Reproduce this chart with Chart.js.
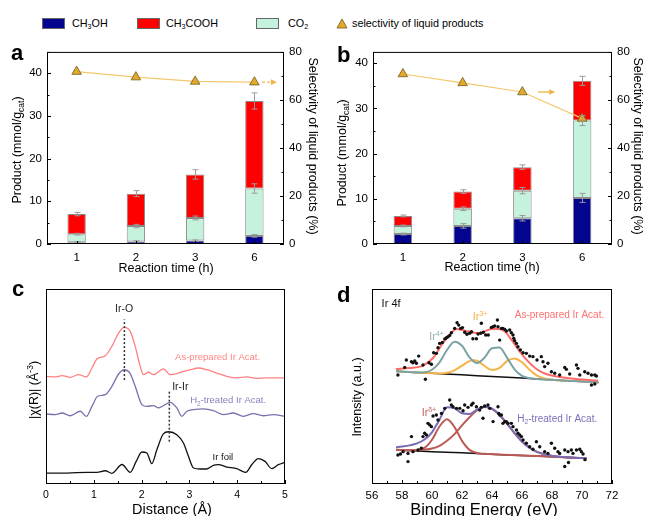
<!DOCTYPE html>
<html>
<head>
<meta charset="utf-8">
<script src="https://cdn.jsdelivr.net/npm/chart.js@4.4.1/dist/chart.umd.min.js"></script>
<style>
  html, body { margin: 0; padding: 0; background: #fff; }
  body { width: 645px; height: 516px; position: relative; overflow: hidden; font-family: "Liberation Sans", Arial, sans-serif; }
  .cv { position: absolute; }
  .lab { position: absolute; font-weight: bold; font-size: 22px; line-height: 22px; }
  .sw { position: absolute; top: 18px; width: 23px; height: 11px; box-sizing: border-box; border: 1px solid #666; }
  .lt { position: absolute; top: 17px; font-size: 10.8px; line-height: 13px; white-space: nowrap; }
  .lt sub { font-size: 7.2px; vertical-align: -2px; line-height: 0; }
</style>
</head>
<body>
<!-- legend -->
<div class="sw" style="left:42px;background:#03058f"></div>
<div class="lt" style="left:72px">CH<sub>3</sub>OH</div>
<div class="sw" style="left:137px;background:#ff0000"></div>
<div class="lt" style="left:166px">CH<sub>3</sub>COOH</div>
<div class="sw" style="left:256px;background:#c5f2dc"></div>
<div class="lt" style="left:288px">CO<sub>2</sub></div>
<svg style="position:absolute;left:336px;top:18px" width="12" height="11"><polygon points="6,1 11,10 1,10" fill="#e3a92b" stroke="#6e5a1e" stroke-width="0.8"/></svg>
<div class="lt" style="left:352px">selectivity of liquid products</div>

<canvas id="ca" class="cv" width="325" height="240" style="left:0;top:40px"></canvas>
<canvas id="cb" class="cv" width="323" height="240" style="left:322px;top:40px"></canvas>
<canvas id="cc" class="cv" width="322" height="236" style="left:0;top:280px"></canvas>
<canvas id="cd" class="cv" width="323" height="236" style="left:322px;top:280px"></canvas>

<div class="lab" style="left:11px;top:42px">a</div>
<div class="lab" style="left:337px;top:44px">b</div>
<div class="lab" style="left:12px;top:278px">c</div>
<div class="lab" style="left:337px;top:284px">d</div>

<script>
const FONT = '"Liberation Sans", Arial, sans-serif';
Chart.defaults.font.family = FONT;
Chart.defaults.color = '#000';
Chart.defaults.animation = false;

// ---- panel a / b : products (mmol/g_cat) and selectivity (%)
const times = ['1', '2', '3', '6'];

const aMeOH = [0.4, 0.6, 0.8, 1.9];
const aCO2 = [1.9, 3.6, 5.3, 11.1];
const aAcOH = [4.7, 7.6, 10.2, 20.5];
const aSel = [71.8, 69.5, 67.7, 67.4];
const aMeOHErr = [0.1, 0.15, 0.15, 0.3];
const aCO2Err = [0.2, 0.4, 0.45, 1.1];
const aAcOHErr = [0.4, 0.7, 1.1, 1.9];

const bMeOH = [2.2, 4.0, 5.7, 10.2];
const bCO2 = [1.8, 3.8, 6.1, 17.1];
const bAcOH = [2.2, 3.8, 5.2, 8.8];
const bSel = [70.8, 67.1, 63.3, 52.3];
const bMeOHErr = [0.2, 0.5, 0.6, 1.0];
const bCO2Err = [0.2, 0.4, 0.7, 1.1];
const bAcOHErr = [0.2, 0.4, 0.5, 1.0];

// ---- panel c : FT-EXAFS, [distance (Å), |χ(R)| arb.]
const asPrepR = [[0,55.2],[0.195,54.9],[0.334,55.6],[0.508,54.7],[0.682,56.1],[0.843,54.9],[0.961,59.5],[1.065,64.1],[1.24,65.8],[1.379,70.6],[1.518,77.4],[1.636,80.3],[1.762,78.3],[1.866,70.6],[1.971,60.3],[2.04,56.1],[2.145,57.3],[2.249,56.1],[2.458,59.0],[2.597,56.1],[2.737,56.6],[2.876,57.8],[3.015,58.6],[3.189,59.5],[3.363,58.6],[3.572,56.9],[3.781,55.2],[3.99,54.4],[4.2,54.9],[4.408,54.2],[4.617,54.4],[5,54.4]];
const h2TreatR = [[0,35.9],[0.195,35.6],[0.334,36.4],[0.508,35.0],[0.717,37.3],[0.843,34.7],[0.961,39.8],[1.079,45.0],[1.24,45.8],[1.379,50.1],[1.518,56.4],[1.636,58.6],[1.762,56.6],[1.866,50.1],[2.006,40.7],[2.11,39.8],[2.249,40.2],[2.354,39.0],[2.458,40.2],[2.597,41.9],[2.737,39.0],[2.841,34.7],[2.946,37.3],[3.085,38.1],[3.294,38.5],[3.503,37.6],[3.712,35.6],[3.92,36.4],[4.13,34.7],[4.338,36.1],[4.547,35.0],[4.756,35.6],[5,34.7]];
const irFoilR = [[0,5.6],[0.439,5.6],[0.857,6.0],[1.065,6.0],[1.24,6.8],[1.38,5.5],[1.59,10.0],[1.762,6.0],[1.887,11.6],[2.006,16.4],[2.11,15.9],[2.214,10.4],[2.319,17.6],[2.458,25.8],[2.563,26.8],[2.737,25.3],[2.876,21.0],[2.98,14.2],[3.085,8.2],[3.224,7.7],[3.363,7.7],[3.503,9.6],[3.607,9.9],[3.781,8.7],[3.99,7.9],[4.178,6.0],[4.304,9.9],[4.443,13.0],[4.582,11.6],[4.721,7.9],[4.861,9.9],[5,11.1]];
const bondLines = [[1.64, 53.3, 84.4], [2.58, 21.7, 48.2]];

// ---- panel d : Ir 4f XPS, [binding energy (eV), intensity arb.]
const envUp = [[57.6,59.0],[58.5,59.5],[59.4,60.7],[60.07,64.6],[60.73,72.3],[61.29,77.4],[61.62,79.5],[61.96,79.1],[62.4,78.3],[62.96,77.4],[63.4,77.9],[63.96,79.5],[64.4,79.5],[64.84,78.3],[65.29,74.0],[65.84,68.0],[66.4,62.9],[66.96,59.0],[67.6,56.4],[68.5,54.9],[69.6,53.8],[71.07,53.0]];
const ir4Up = [[57.6,57.8],[58.5,57.4],[59,57.2],[59.5,57.3],[60,58.6],[60.5,62.4],[61,68.7],[61.5,73.0],[62,70.9],[62.5,64.9],[63,62.0],[63.5,64.8],[64,69.6],[64.5,70.0],[65,64.8],[65.5,58.8],[66,55.5],[66.5,54.3],[67,53.9],[68,53.4],[69,53.0],[70,52.6],[71.1,52.1]];
const ir3Up = [[57.6,57.8],[59,57.2],[60,56.8],[60.5,56.7],[61,57.0],[61.5,58.3],[62,60.7],[62.5,63.0],[62.8,63.4],[63,63.2],[63.5,60.5],[64,58.4],[64.5,59.5],[65,63.0],[65.5,64.3],[66,62.4],[66.5,58.6],[67,55.6],[67.5,54.1],[68,53.5],[69,53.0],[70,52.6],[71.1,52.1]];
const bgUp = [[57.6,57.8],[60,56.8],[62,56.0],[64,55.1],[66,54.3],[68,53.4],[70,52.6],[71.1,52.1]];
const dotsUp = [[57.73,55.9],[58.18,59.8],[58.29,63.6],[58.63,62.7],[58.73,62.2],[58.85,63.1],[58.96,61.9],[59.11,65.6],[59.4,61.0],[59.56,53.7],[59.8,62.2],[59.96,61.4],[60.11,67.3],[60.29,67.0],[60.4,69.9],[60.51,72.1],[60.69,72.6],[60.85,74.4],[60.96,75.0],[61.07,75.5],[61.18,76.2],[61.29,77.6],[61.51,79.8],[61.67,82.7],[61.78,81.5],[61.91,79.8],[62.03,80.2],[62.18,77.8],[62.33,76.8],[62.51,77.3],[62.63,78.1],[62.73,74.5],[62.96,74.5],[63.07,76.9],[63.25,77.3],[63.29,82.4],[63.42,77.8],[63.58,76.4],[63.75,76.4],[63.96,80.3],[64.07,80.7],[64.18,81.0],[64.36,84.1],[64.4,80.7],[64.51,73.8],[64.63,79.8],[64.73,79.8],[64.85,79.3],[64.96,78.5],[65.18,79.0],[65.29,77.6],[65.4,76.4],[65.45,74.7],[65.51,73.5],[65.63,72.1],[65.73,70.4],[65.89,68.7],[66.07,67.3],[66.29,67.0],[66.51,65.6],[66.73,65.3],[67.0,63.6],[67.29,65.3],[67.4,62.7],[67.51,60.2],[67.73,61.9],[67.96,57.6],[68.18,56.8],[68.51,55.9],[68.85,59.8],[68.96,58.8],[69.18,56.4],[69.63,61.0],[69.73,59.3],[69.85,55.9],[70.18,57.6],[70.4,56.8],[70.63,55.9],[70.85,55.9],[70.96,55.4],[70.63,50.8],[70.85,51.3]];

const envLo = [[57.6,18.8],[58,19.2],[58.5,19.8],[59,20.8],[59.5,22.8],[60,26.5],[60.5,33.0],[61,39.3],[61.5,38.8],[62,36.3],[62.5,35.9],[63,38.1],[63.5,39.6],[64,38.6],[64.5,35.4],[65,31.0],[65.5,26.1],[66,21.8],[66.5,18.6],[67,16.5],[67.5,15.3],[68,14.5],[69,13.7],[70,13.3],[70.3,13.2]];
const irD1Lo = [[57.6,17.6],[58.5,17.3],[59,17.4],[59.5,18.5],[60,22.7],[60.5,29.5],[61,33.2],[61.5,29.2],[62,22.1],[62.5,17.5],[63,15.9],[63.5,15.5],[64,15.3],[66,14.6],[68,14.0],[70.3,13.2]];
const irD2Lo = [[57.6,17.6],[58.5,17.3],[59,17.4],[59.5,17.6],[60,18.2],[60.5,19.6],[61,22.2],[61.5,25.6],[62,30.1],[62.5,34.2],[63,37.9],[63.5,39.5],[64,38.5],[64.5,35.4],[65,31.0],[65.5,26.1],[66,21.8],[66.5,18.6],[67,16.5],[67.5,15.2],[68,14.4],[69,13.6],[70,13.3],[70.3,13.2]];
const bgLo = [[57.6,17.4],[60,16.6],[62,16.0],[64,15.3],[66,14.6],[68,14.0],[70.3,13.2]];
const dotsLo = [[57.73,14.9],[57.9,15.4],[58.07,16.6],[58.4,15.7],[58.4,11.5],[58.63,24.3],[58.73,16.6],[59.07,17.4],[59.29,18.3],[59.4,24.3],[59.51,26.0],[59.63,25.1],[59.73,31.1],[59.85,30.3],[59.96,29.4],[60.07,34.9],[60.29,35.4],[60.4,32.8],[60.63,36.2],[60.85,38.8],[61.18,43.1],[61.29,40.5],[61.4,39.6],[61.63,38.8],[61.85,38.8],[62.07,37.6],[62.18,40.5],[62.4,39.3],[62.63,40.5],[62.73,41.4],[62.96,39.6],[63.18,37.9],[63.29,39.3],[63.4,33.7],[63.51,40.0],[63.73,40.5],[63.85,38.8],[64.07,32.0],[64.4,39.6],[64.45,36.2],[64.51,35.4],[64.63,35.4],[64.73,31.1],[64.85,32.0],[64.96,32.0],[65.07,31.1],[65.29,31.1],[65.4,29.4],[65.63,27.7],[65.73,26.0],[65.85,25.1],[65.96,24.3],[66.07,22.6],[66.29,20.9],[66.51,19.1],[66.73,17.8],[66.96,21.7],[67.18,19.1],[67.51,16.6],[67.73,15.7],[67.96,20.9],[68.18,18.3],[68.4,16.6],[68.51,15.7],[68.85,17.4],[68.85,9.0],[69.07,16.6],[69.1,11.0],[69.29,17.4],[69.4,15.7],[69.63,17.4],[69.85,17.8],[69.96,16.6],[70.07,15.4],[70.2,12.5]];

// ---------- drawing helpers
function splitRich(str) {
  const out = [];
  const re = /([_^])\{([^}]*)\}/g;
  let last = 0, m;
  while ((m = re.exec(str))) {
    if (m.index > last) out.push({ t: str.slice(last, m.index), s: 0 });
    out.push({ t: m[2], s: m[1] === '_' ? 1 : -1 });
    last = re.lastIndex;
  }
  if (last < str.length) out.push({ t: str.slice(last), s: 0 });
  return out;
}

function richText(ctx, str, x, y, size, color, rot, align) {
  const ps = splitRich(str);
  ctx.save();
  ctx.translate(x, y);
  if (rot) ctx.rotate(rot);
  ctx.fillStyle = color;
  ctx.textBaseline = 'middle';
  ctx.textAlign = 'left';
  let w = 0;
  ps.forEach(p => {
    p.f = (p.s ? size * 0.68 : size) + 'px ' + FONT;
    ctx.font = p.f;
    p.w = ctx.measureText(p.t).width;
    w += p.w;
  });
  let cx = align === 'left' ? 0 : -w / 2;
  ps.forEach(p => {
    ctx.font = p.f;
    ctx.fillText(p.t, cx, p.s * size * 0.32);
    cx += p.w;
  });
  ctx.restore();
}

function drawFrameTicks(chart, spec) {
  const { ctx, chartArea: a } = chart;
  ctx.save();
  ctx.strokeStyle = '#000';
  ctx.lineWidth = 1;
  ctx.strokeRect(a.left + 0.5, a.top + 0.5, a.right - a.left - 1, a.bottom - a.top - 1);
  Object.keys(spec).forEach(id => {
    const s = chart.scales[id], t = spec[id];
    const marks = [];
    s.ticks.forEach((tk, i) => marks.push([s.getPixelForTick(i), t.major]));
    if (t.minor) {
      for (let v = s.min; v <= s.max + 1e-9; v += t.minor) marks.push([s.getPixelForValue(v), t.minorLen]);
    }
    marks.forEach(([p, len]) => {
      const q = Math.round(p) + 0.5;
      ctx.beginPath();
      if (s.position === 'bottom') { ctx.moveTo(q, a.bottom); ctx.lineTo(q, a.bottom - len); }
      else if (s.position === 'left') { ctx.moveTo(a.left, q); ctx.lineTo(a.left + len, q); }
      else { ctx.moveTo(a.right, q); ctx.lineTo(a.right - len, q); }
      ctx.stroke();
    });
  });
  ctx.restore();
}

function drawErrors(chart, list) {
  const ctx = chart.ctx, y = chart.scales.y;
  ctx.save();
  ctx.strokeStyle = '#9a9a9a';
  ctx.lineWidth = 1;
  list.forEach(e => {
    chart.getDatasetMeta(e.ds).data.forEach((bar, i) => {
      const h = y.getPixelForValue(0) - y.getPixelForValue(e.err[i]);
      const x = Math.round(bar.x) + 0.5, yt = bar.y;
      ctx.beginPath();
      ctx.moveTo(x, yt - h); ctx.lineTo(x, yt + h);
      ctx.moveTo(x - 3, yt - h); ctx.lineTo(x + 3, yt - h);
      ctx.moveTo(x - 3, yt + h); ctx.lineTo(x + 3, yt + h);
      ctx.stroke();
    });
  });
  ctx.restore();
}

function drawArrow(chart, ar) {
  const ctx = chart.ctx, x = chart.scales.x, y2 = chart.scales.y2;
  const step = x.getPixelForValue(1) - x.getPixelForValue(0);
  const cx = x.getPixelForValue(ar.index);
  const x0 = cx + ar.dx0 * step, x1 = cx + ar.dx1 * step;
  const yy = y2.getPixelForValue(ar.value);
  ctx.save();
  ctx.strokeStyle = ctx.fillStyle = '#f0b445';
  ctx.lineWidth = 1.3;
  ctx.setLineDash(ar.dash || []);
  ctx.beginPath(); ctx.moveTo(x0, yy); ctx.lineTo(x1 - 5, yy); ctx.stroke();
  ctx.setLineDash([]);
  ctx.beginPath(); ctx.moveTo(x1, yy); ctx.lineTo(x1 - 6, yy - 2.8); ctx.lineTo(x1 - 6, yy + 2.8); ctx.closePath(); ctx.fill();
  ctx.restore();
}

function deco(cfg) {
  return {
    id: 'deco',
    afterDatasetsDraw(chart) {
      const ctx = chart.ctx;
      if (cfg.errors) drawErrors(chart, cfg.errors);
      if (cfg.arrow) drawArrow(chart, cfg.arrow);
      if (cfg.vlines) {
        ctx.save();
        ctx.strokeStyle = '#333'; ctx.lineWidth = 1.5; ctx.setLineDash([2, 2]);
        cfg.vlines.forEach(([xv, y0, y1]) => {
          const px = chart.scales.x.getPixelForValue(xv);
          ctx.beginPath();
          ctx.moveTo(px, chart.scales.y.getPixelForValue(y0));
          ctx.lineTo(px, chart.scales.y.getPixelForValue(y1));
          ctx.stroke();
        });
        ctx.restore();
      }
    },
    afterDraw(chart) {
      const ctx = chart.ctx;
      drawFrameTicks(chart, cfg.ticks);
      (cfg.labels || []).forEach(l => {
        richText(ctx, l.t, chart.scales.x.getPixelForValue(l.x), chart.scales.y.getPixelForValue(l.y), l.size, l.color, 0, l.align);
      });
      (cfg.titles || []).forEach(t => {
        richText(ctx, t.t, t.x, t.y, t.size, '#000', t.rot || 0);
      });
    }
  };
}

const noGrid = { display: false, drawTicks: false };
const noBorder = { display: false };

function barPanel(id, meoh, co2, acoh, sel, errs, yMax, axisW, arrow, titles) {
  const barStyle = { borderColor: '#8a8a8a', borderWidth: 1, borderSkipped: false, order: 1,
    barPercentage: 0.31, categoryPercentage: 1 };
  new Chart(document.getElementById(id), {
    type: 'bar',
    data: {
      labels: times,
      datasets: [
        { type: 'line', label: 'selectivity of liquid products', data: sel, yAxisID: 'y2', order: 0,
          borderColor: '#f5c86e', borderWidth: 1.2, pointStyle: 'triangle', pointRadius: 5.5,
          pointBackgroundColor: '#e3a92b', pointBorderColor: '#6e5a1e', pointBorderWidth: 0.8 },
        Object.assign({ label: 'CH3OH', data: meoh, backgroundColor: '#03058f' }, barStyle),
        Object.assign({ label: 'CO2', data: co2, backgroundColor: '#c5f2dc' }, barStyle),
        Object.assign({ label: 'CH3COOH', data: acoh, backgroundColor: '#ff0000' }, barStyle)
      ]
    },
    options: {
      responsive: false,
      layout: { padding: { top: 9, left: 0, right: 0, bottom: 0 } },
      plugins: { legend: { display: false }, tooltip: { enabled: false } },
      scales: {
        x: { stacked: true, grid: noGrid, border: noBorder, ticks: { font: { size: 11.5 }, padding: 7 },
          afterFit: s => { s.height = 36; } },
        y: { stacked: true, min: 0, max: yMax, grid: noGrid, border: noBorder,
          ticks: { stepSize: 10, includeBounds: false, font: { size: 11.5 }, padding: 5 },
          afterFit: s => { s.width = axisW[0]; } },
        y2: { position: 'right', min: 0, max: 80, grid: noGrid, border: noBorder,
          ticks: { stepSize: 20, font: { size: 11.5 }, padding: 5 },
          afterFit: s => { s.width = axisW[1]; } }
      }
    },
    plugins: [deco({
      errors: [{ ds: 1, err: errs[0] }, { ds: 2, err: errs[1] }, { ds: 3, err: errs[2] }],
      arrow: arrow,
      ticks: { x: { major: 3 }, y: { major: 4, minor: 5, minorLen: 2.5 }, y2: { major: 4, minor: 10, minorLen: 2.5 } },
      titles: titles
    })]
  });
}

barPanel('ca', aMeOH, aCO2, aAcOH, aSel, [aMeOHErr, aCO2Err, aAcOHErr], 45, [47, 41],
  { index: 3, value: aSel[3], dx0: 0.13, dx1: 0.38, dash: [3, 2] },
  [ { t: 'Product (mmol/g_{cat})', x: 18, y: 110, size: 12.5, rot: -Math.PI / 2 },
    { t: 'Selectivity of liquid products (%)', x: 312, y: 106, size: 12.5, rot: Math.PI / 2 },
    { t: 'Reaction time (h)', x: 166, y: 229, size: 12.5 } ]);

barPanel('cb', bMeOH, bCO2, bAcOH, bSel, [bMeOHErr, bCO2Err, bAcOHErr], 42.5, [51, 33],
  { index: 2, value: bSel[2], dx0: 0.26, dx1: 0.55 },
  [ { t: 'Product (mmol/g_{cat})', x: 21, y: 113, size: 12.5, rot: -Math.PI / 2 },
    { t: 'Selectivity of liquid products (%)', x: 315, y: 106, size: 12.5, rot: Math.PI / 2 },
    { t: 'Reaction time (h)', x: 170, y: 228, size: 12.5 } ]);

function curve(pts, color, width, order) {
  return { data: pts.map(p => ({ x: p[0], y: p[1] })), showLine: true, pointRadius: 0, borderColor: color,
    borderWidth: width, cubicInterpolationMode: 'monotone', fill: false, order: order };
}
function dots(pts, order) {
  return { data: pts.map(p => ({ x: p[0], y: p[1] })), showLine: false, pointRadius: 1.7, pointBorderWidth: 0,
    pointBackgroundColor: '#111', order: order };
}

// panel c
new Chart(document.getElementById('cc'), {
  type: 'scatter',
  data: { datasets: [
    curve(asPrepR, '#ff8080', 1.3, 0),
    curve(h2TreatR, '#7b70ad', 1.3, 0),
    curve(irFoilR, '#111', 1.3, 0)
  ] },
  options: {
    responsive: false,
    layout: { padding: { top: 9, left: 46, right: 37, bottom: 0 } },
    plugins: { legend: { display: false }, tooltip: { enabled: false } },
    scales: {
      x: { type: 'linear', min: 0, max: 5, grid: noGrid, border: noBorder,
        ticks: { stepSize: 1, font: { size: 10.5 }, padding: 5 }, afterFit: s => { s.height = 32; } },
      y: { display: false, min: 0, max: 100 }
    }
  },
  plugins: [deco({
    vlines: bondLines,
    ticks: { x: { major: 4, minor: 0.5, minorLen: 3 } },
    labels: [
      { t: 'Ir-O', x: 1.635, y: 89.6, size: 10.5, color: '#222' },
      { t: 'Ir-Ir', x: 2.81, y: 49.7, size: 10.5, color: '#222' },
      { t: 'As-prepared Ir Acat.', x: 3.59, y: 64.8, size: 9.5, color: '#ff8585' },
      { t: 'H_{2}-treated Ir Acat.', x: 3.81, y: 42.7, size: 9.5, color: '#8a80bb' },
      { t: 'Ir foil', x: 3.7, y: 13.5, size: 9.5, color: '#111' }
    ],
    titles: [
      { t: '|\u03c7(R)| (\u00c5^{-3})', x: 35, y: 110, size: 12.5, rot: -Math.PI / 2 },
      { t: 'Distance (\u00c5)', x: 172, y: 230, size: 14.5 }
    ]
  })]
});

// panel d
new Chart(document.getElementById('cd'), {
  type: 'scatter',
  data: { datasets: [
    dots(dotsUp, 0), dots(dotsLo, 0),
    curve(envUp, '#ff6a6a', 2, 1),
    curve(envLo, '#7b6bb5', 2, 1),
    curve(ir4Up, '#7aa3a5', 2, 2),
    curve(ir3Up, '#f7b346', 2, 2),
    curve(irD1Lo, '#bb5a55', 2, 2),
    curve(irD2Lo, '#bb5a55', 2, 2),
    curve(bgUp, '#111', 1.5, 3),
    curve(bgLo, '#111', 1.5, 3)
  ] },
  options: {
    responsive: false,
    layout: { padding: { top: 9, left: 50, right: 33, bottom: 0 } },
    plugins: { legend: { display: false }, tooltip: { enabled: false } },
    scales: {
      x: { type: 'linear', min: 56, max: 72, grid: noGrid, border: noBorder,
        ticks: { stepSize: 2, font: { size: 11.5 }, padding: 5 }, afterFit: s => { s.height = 32; } },
      y: { display: false, min: 0, max: 100 }
    }
  },
  plugins: [deco({
    ticks: { x: { major: 4, minor: 1, minorLen: 3 } },
    labels: [
      { t: 'Ir 4f', x: 56.64, y: 92.3, size: 11, color: '#111', align: 'left' },
      { t: 'As-prepared Ir Acat.', x: 68.5, y: 86.7, size: 10, color: '#ff7070' },
      { t: 'Ir^{3+}', x: 63.2, y: 85.6, size: 10.5, color: '#f5b041' },
      { t: 'Ir^{4+}', x: 60.3, y: 75.4, size: 10.5, color: '#8fb0b3' },
      { t: 'Ir^{\u03b4+}', x: 59.8, y: 36.4, size: 10.5, color: '#c0605a' },
      { t: 'H_{2}-treated Ir Acat.', x: 68.35, y: 33.3, size: 10, color: '#7e70b8' }
    ],
    titles: [
      { t: 'Intensity (a.u.)', x: 36, y: 117, size: 12.5, rot: -Math.PI / 2 },
      { t: 'Binding Energy (eV)', x: 162, y: 230, size: 16.5 }
    ]
  })]
});
</script>
</body>
</html>
